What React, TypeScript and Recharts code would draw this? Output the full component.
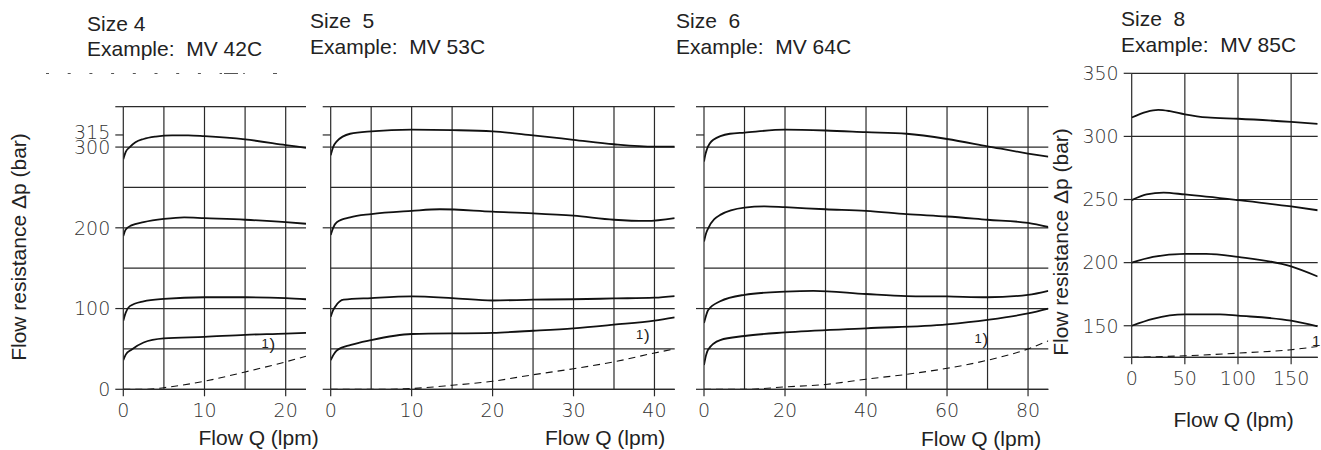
import React from 'react';
import { LineChart, Line, XAxis, YAxis, CartesianGrid } from 'recharts';

type Pt = { q: number; p: number };
const pts = (a: number[][]): Pt[] => a.map(([q, p]) => ({ q, p }));

// ---------- Size 4 (MV 42C) ----------
const size4Q = { domain: [0, 22.5], ticks: [0, 10, 20], grid: [5, 10, 15, 20] };
const size4A = pts([[0, 285], [0.3, 294], [0.8, 300], [1.5, 306], [2.5, 310], [4, 313], [6, 314.5], [8, 314.5], [10, 313.5], [15, 309.5], [20, 302.5], [22.5, 299]]);
const size4B = pts([[0, 190], [0.3, 198], [1, 203], [2.5, 207], [5, 211], [7.5, 213], [10, 212], [15, 210], [20, 207], [22.5, 205]]);
const size4C = pts([[0, 85], [0.3, 95], [0.8, 103], [2.5, 109], [5, 112], [10, 114], [15, 114], [20, 113], [22.5, 111.5]]);
const size4D = pts([[0, 36], [0.3, 43], [1, 49], [2.5, 58], [5, 63], [10, 65], [15, 67.5], [20, 69], [22.5, 70]]);
const size4Dashed = pts([[0, 0], [3, 0], [5, 2], [10, 10], [15, 21.5], [20, 34], [22.5, 41]]);

// ---------- Size 5 (MV 53C) ----------
const size5Q = { domain: [0, 42.5], ticks: [0, 10, 20, 30, 40], grid: [5, 10, 15, 20, 25, 30, 35, 40] };
const size5A = pts([[0, 290], [0.3, 300], [0.75, 307], [2.4, 316.5], [5, 319.5], [10, 321.5], [15, 321], [20, 319.5], [25, 314.5], [30, 309], [35, 303.5], [40, 300.5], [42.5, 300.5]]);
const size5B = pts([[0, 191], [0.3, 200], [0.75, 207], [2.4, 213], [5, 217], [10, 221], [13.5, 223], [20, 220], [25, 218], [30, 215], [35, 210], [39, 208.5], [42.5, 212]]);
const size5C = pts([[0, 90], [0.3, 98], [0.6, 103], [1.6, 111], [5, 113], [10, 115], [15, 113], [20, 110], [25, 111], [30, 111.5], [35, 112.5], [40, 113.5], [42.5, 115.5]]);
const size5D = pts([[0, 36], [0.3, 42], [0.75, 48], [2.5, 55], [5, 61], [10, 68.5], [20, 70], [25, 72.5], [30, 75.5], [35, 80], [40, 85], [42.5, 89]]);
const size5Dashed = pts([[0, 0], [6.5, 0], [10, 1], [15, 5], [20, 10], [25, 18], [30, 25.5], [35, 34], [40, 45], [42.5, 50]]);

// ---------- Size 6 (MV 64C) ----------
const size6Q = { domain: [0, 85], ticks: [0, 20, 40, 60, 80], grid: [10, 20, 30, 40, 50, 60, 70, 80] };
const size6A = pts([[0, 282], [0.3, 290], [0.7, 297], [2.3, 309], [6.4, 316.5], [10, 318], [20, 321.5], [30, 320.5], [40, 318.5], [50, 316.5], [60, 310], [70, 301], [80, 292], [85, 288]]);
const size6B = pts([[0, 183], [0.5, 193], [1, 199], [4, 216], [10, 225], [15, 226.5], [20, 225.5], [30, 223], [40, 221], [50, 217], [60, 214], [70, 210], [80, 206], [85, 201]]);
const size6C = pts([[0, 82], [0.5, 91], [1, 98], [4, 109], [10, 117], [20, 121], [27, 122], [40, 118], [50, 115.5], [60, 115], [70, 114], [80, 117], [85, 122]]);
const size6D = pts([[0, 30], [0.5, 42], [1, 49], [4, 61], [10, 66], [20, 70.5], [40, 75.5], [60, 80.5], [70, 86], [80, 94], [85, 100]]);
const size6Dashed = pts([[0, 0], [10.5, 0], [20, 3], [30, 6], [40, 12.5], [50, 18.5], [60, 26], [70, 36], [80, 50], [85, 60]]);

// ---------- Size 8 (MV 85C) ----------
const size8Q = { domain: [0, 175], ticks: [0, 50, 100, 150], grid: [50, 100, 150] };
const size8A = pts([[0, 315], [14, 319.5], [25, 321], [36, 320], [50, 317.5], [71, 315], [100, 314], [150, 311.5], [175, 310]]);
const size8B = pts([[0, 249.5], [14, 254], [30, 255.5], [50, 254], [100, 249.5], [150, 244.5], [175, 241.5]]);
const size8C = pts([[0, 200], [20, 204.5], [50, 207], [70, 207], [100, 204.5], [150, 197], [175, 189]]);
const size8D = pts([[0, 150], [20, 155.5], [50, 159], [83, 159], [100, 158], [150, 154], [175, 149.5]]);
const size8Dashed = pts([[0, 125], [50, 126.2], [100, 128.3], [150, 131], [175, 133.6]]);

// Pressure axes
const pSmall = { domain: [0, 350], ticks: [0, 100, 200, 300, 315, 350], labels: [0, 100, 200, 300, 315], grid: [0, 50, 100, 150, 200, 250, 300, 350] };
const pLarge = { domain: [125, 350], ticks: [125, 150, 200, 250, 300, 350], labels: [150, 200, 250, 300, 350], grid: [125, 150, 200, 250, 300, 350] };

const GRID = '#2a2a2a';
const CURVE = '#111';
const tickFont = { fontSize: 19, fontFamily: '"DejaVu Sans", sans-serif', fontWeight: 200, fill: '#333' };
const TXT = '"Liberation Sans", Arial, Helvetica, sans-serif';

type PanelProps = {
  left: number; width: number; yW: number; right: number; top: number; bottom: number;
  q: { domain: number[]; ticks: number[]; grid: number[] };
  p: { domain: number[]; ticks: number[]; labels: number[]; grid: number[] };
  showY: boolean; curves: Pt[][]; dashed: Pt[];
};

const makeYTick = (show: boolean, labels: number[]) => (props: any) => {
  const { x, y, payload } = props;
  const v = payload && payload.value;
  if (!show || !labels.includes(v)) return <g />;
  const shift = v === 315 ? -2.5 : 0;
  return (
    <text x={x} y={y + shift} dy="0.36em" textAnchor="end" fontSize={tickFont.fontSize}
      fontFamily={tickFont.fontFamily} fontWeight={tickFont.fontWeight} fill={tickFont.fill}>{v}</text>
  );
};

function Panel(props: PanelProps) {
  const { left, width, yW, right, top, bottom, q, p, showY, curves, dashed } = props;
  return (
    <div style={{ position: 'absolute', left, top: 0, width, height: 450 }}>
      <LineChart width={width} height={450} margin={{ top, right, bottom, left: 0 }}>
        <CartesianGrid stroke={GRID} strokeWidth={1.2} horizontalValues={p.grid} verticalValues={q.grid} />
        <XAxis type="number" dataKey="q" domain={q.domain as [number, number]} ticks={q.ticks} allowDataOverflow interval={0}
          height={30} tickSize={7} tickMargin={7} stroke={GRID} axisLine={{ stroke: GRID, strokeWidth: 1.2 }}
          tickLine={{ stroke: GRID, strokeWidth: 1.2 }} tick={tickFont} />
        <YAxis type="number" dataKey="p" domain={p.domain as [number, number]} ticks={p.ticks} allowDataOverflow interval={0}
          width={yW} tickSize={8} tickMargin={5} axisLine={{ stroke: GRID, strokeWidth: 1.2 }}
          tickLine={{ stroke: GRID, strokeWidth: 1.2 }} tick={makeYTick(showY, p.labels)} />
        {curves.map((c, i) => (
          <Line key={i} data={c} dataKey="p" type="monotone" dot={false} activeDot={false} stroke={CURVE} strokeWidth={1.8} isAnimationActive={false} />
        ))}
        <Line data={dashed} dataKey="p" type="monotone" dot={false} activeDot={false} stroke={CURVE} strokeWidth={1.1} strokeDasharray="7 5" isAnimationActive={false} />
      </LineChart>
    </div>
  );
}

const T = ({ left, top, children, size = 21, lh = 25.5 }: any) => (
  <div style={{ position: 'absolute', left, top, fontSize: size, lineHeight: lh + 'px', whiteSpace: 'pre', fontFamily: TXT, color: '#222' }}>{children}</div>
);

const YLabel = ({ cx, cy }: { cx: number; cy: number }) => (
  <div style={{ position: 'absolute', left: cx, top: cy, transform: 'translate(-50%, -50%) rotate(-90deg)', fontSize: 21, lineHeight: '21px', whiteSpace: 'nowrap', fontFamily: TXT, color: '#222' }}>
    Flow resistance Δp (bar)
  </div>
);

const Note = ({ left, top }: { left: number; top: number }) => (
  <>
    <div style={{ position: 'absolute', left, top, fontSize: 13, lineHeight: '13px', fontFamily: TXT, color: '#222' }}>1</div>
    <div style={{ position: 'absolute', left: left + 8, top: top - 1, fontSize: 17, lineHeight: '17px', fontFamily: TXT, color: '#222' }}>)</div>
  </>
);

export default function App() {
  return (
    <div style={{ position: 'absolute', left: 0, top: 0, width: 1321, height: 450, background: '#fff', overflow: 'hidden' }}>
      <Panel left={0} width={315} yW={123.3} right={9} top={106.7} bottom={30.7} q={size4Q} p={pSmall} showY
        curves={[size4A, size4B, size4C, size4D]} dashed={size4Dashed} />
      <Panel left={315} width={370} yW={15.7} right={10.3} top={106.7} bottom={30.7} q={size5Q} p={pSmall} showY={false}
        curves={[size5A, size5B, size5C, size5D]} dashed={size5Dashed} />
      <Panel left={685} width={370} yW={19} right={6.7} top={106.7} bottom={30.7} q={size6Q} p={pSmall} showY={false}
        curves={[size6A, size6B, size6C, size6D]} dashed={size6Dashed} />
      <Panel left={1055} width={266} yW={76.7} right={3.3} top={73.3} bottom={62.7} q={size8Q} p={pLarge} showY
        curves={[size8A, size8B, size8C, size8D]} dashed={size8Dashed} />

      <T left={87} top={10.7}>{'Size 4\nExample:  MV 42C'}</T>
      <T left={310} top={8.3}>{'Size  5\nExample:  MV 53C'}</T>
      <T left={676} top={8.3}>{'Size  6\nExample:  MV 64C'}</T>
      <T left={1121} top={6}>{'Size  8\nExample:  MV 85C'}</T>

      <svg style={{ position: 'absolute', left: 0, top: 0 }} width={300} height={90}>
        <line x1={46} y1={73.5} x2={222} y2={73.5} stroke="#555" strokeWidth={1} strokeDasharray="3 18.7" />
        <line x1={224} y1={73.5} x2={238} y2={73.5} stroke="#555" strokeWidth={1} />
        <line x1={243} y1={73.5} x2={245} y2={73.5} stroke="#777" strokeWidth={1} />
        <line x1={273} y1={73.5} x2={277} y2={73.5} stroke="#555" strokeWidth={1} />
      </svg>

      <YLabel cx={17.7} cy={247} />
      <YLabel cx={1060} cy={242} />

      <T left={198.5} top={427.2} lh={21}>Flow Q (lpm)</T>
      <T left={545} top={427.2} lh={21}>Flow Q (lpm)</T>
      <T left={921} top={428} lh={21}>Flow Q (lpm)</T>
      <T left={1173.5} top={409} lh={21}>Flow Q (lpm)</T>

      <Note left={261.5} top={336.5} />
      <Note left={636} top={327.5} />
      <Note left={974.5} top={331.5} />
      <div style={{ position: 'absolute', left: 1312, top: 333, fontSize: 15, lineHeight: '15px', fontFamily: TXT, color: '#222' }}>1</div>
    </div>
  );
}
